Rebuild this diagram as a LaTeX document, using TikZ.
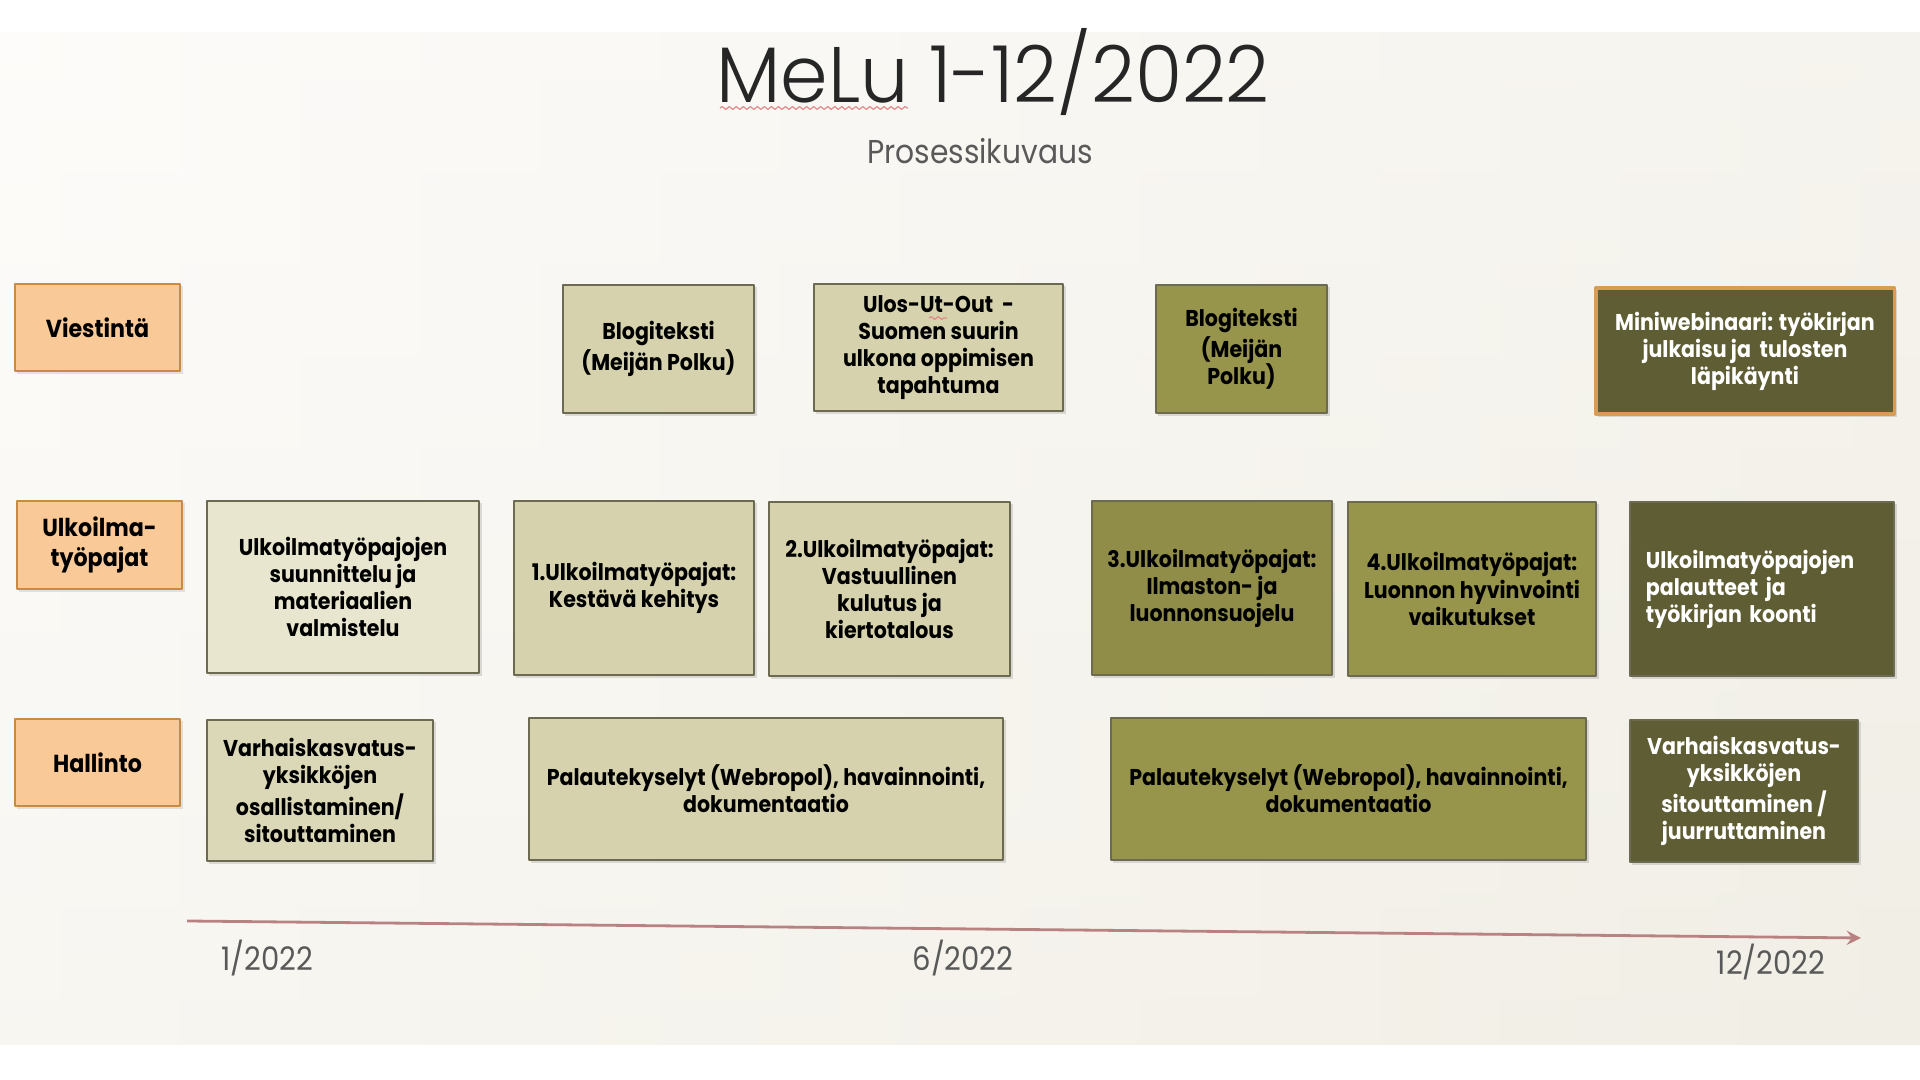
\documentclass[tikz,border=0pt]{standalone}
\usepackage{fontspec}
\setmainfont{Poppins}[FakeStretch=0.9]
\newfontfamily\titlefam{Poppins Light}[FakeStretch=0.97]
\usetikzlibrary{shadows,decorations.pathmorphing}

\definecolor{lanefill}{HTML}{F9CA98}
\definecolor{laneline}{HTML}{C98A45}
\definecolor{paleolive}{HTML}{E9E6CF}
\definecolor{lightolive}{HTML}{D5D2AD}
\definecolor{midolive}{HTML}{97944C}
\definecolor{darkolive}{HTML}{5E5D33}
\definecolor{boxline}{HTML}{6C6A50}
\definecolor{miniline}{HTML}{D89C55}
\definecolor{axisred}{HTML}{B98282}
\definecolor{spellred}{HTML}{E28C8C}
\definecolor{titlegray}{HTML}{262626}
\definecolor{subgray}{HTML}{595959}
\definecolor{slidetop}{HTML}{FDFCFA}
\definecolor{slidebottom}{HTML}{F3F1E9}
\definecolor{slideright}{HTML}{EFECE2}

\newcommand\titlefont{\titlefam\fontsize{22.4}{26}\selectfont}
\newcommand\subfont{\fontsize{9.4}{11}\selectfont}
\newcommand\datefont{\fontsize{9.2}{11}\selectfont}
\newcommand\lanefont{\fontsize{7}{8.3}\selectfont\bfseries}
\newcommand\taskfont{\fontsize{6.5}{7.7}\selectfont\bfseries}

\tikzset{
  lanebox/.style={draw=laneline,fill=lanefill,line width=0.7pt,align=center,
    font=\lanefont,text=black,inner sep=0pt,minimum width=1.65cm,minimum height=0.87cm,
    drop shadow={shadow xshift=0.025cm,shadow yshift=-0.025cm,opacity=0.2}},
  taskbox/.style={draw=boxline,line width=0.6pt,align=center,font=\taskfont,inner sep=0pt,
    drop shadow={shadow xshift=0.025cm,shadow yshift=-0.025cm,opacity=0.25}},
  taskpale/.style={taskbox,fill=paleolive},
  tasklight/.style={taskbox,fill=lightolive},
  taskmid/.style={taskbox,fill=midolive},
  taskdark/.style={taskbox,fill=darkolive,text=white},
  datelabel/.style={font=\datefont,text=subgray,anchor=base},
  spell/.style={spellred,line width=0.35pt,decorate,
    decoration={snake,amplitude=0.4pt,segment length=2pt}}
}

\begin{document}
\begin{tikzpicture}[>=stealth,line join=round,x=0.01cm,y=-0.01cm]
\useasboundingbox (0,0) rectangle (1920,1080);
\fill[white] (0,0) rectangle (1920,1080);
\shade[top color=slidetop,bottom color=slidebottom] (0,33) rectangle (1920,1045);
\shade[left color=slidetop,right color=slideright,opacity=0.5] (0,33) rectangle (1920,1045);

% title
\node[font=\titlefont,text=titlegray,anchor=base] (title) at (993,103) {MeLu 1-12/2022};
\node[font=\subfont,text=subgray,anchor=base] (subtitle) at (980,164) {Prosessikuvaus};
\draw[spell] (720,108) -- (908,108);

% lanes
\node[lanebox] (viestinta) at (97.5,327.5) {Viestintä};
\node[lanebox,minimum height=0.88cm] (ulkoilma) at (99.5,545) {Ulkoilma-\\työpajat};
\node[lanebox] (hallinto) at (97.5,762.5) {Hallinto};

% Viestintä
\node[tasklight,minimum width=1.91cm,minimum height=1.28cm] (blog1) at (658.5,349)
  {Blogiteksti\\(Meijän Polku)};
\node[tasklight,minimum width=2.49cm,minimum height=1.27cm] (ulos) at (938.5,347.5)
  {Ulos-Ut-Out~~-\\Suomen suurin\\ulkona oppimisen\\tapahtuma};
\draw[spell] (929,318) -- (947,318);
\node[taskmid,minimum width=1.71cm,minimum height=1.28cm] (blog2) at (1241.5,349)
  {Blogiteksti\\(Meijän\\Polku)};
\node[taskdark,draw=miniline,line width=0.9pt,minimum width=2.98cm,minimum height=1.26cm] (mini) at (1745,351)
  {Miniwebinaari: työkirjan\\julkaisu ja~~tulosten\\läpikäynti};

% Ulkoilmatyöpajat
\node[taskpale,minimum width=2.72cm,minimum height=1.72cm] (suunnittelu) at (343,587)
  {Ulkoilmatyöpajojen\\suunnittelu ja\\materiaalien\\valmistelu};
\node[tasklight,minimum width=2.40cm,minimum height=1.74cm] (paja1) at (634,588)
  {1.Ulkoilmatyöpajat:\\Kestävä kehitys};
\node[tasklight,minimum width=2.41cm,minimum height=1.74cm] (paja2) at (889.5,589)
  {2.Ulkoilmatyöpajat:\\Vastuullinen\\kulutus ja\\kiertotalous};
\node[taskmid,fill=midolive!95!black,minimum width=2.40cm,minimum height=1.74cm] (paja3) at (1212,588)
  {3.Ulkoilmatyöpajat:\\Ilmaston- ja\\luonnonsuojelu};
\node[taskmid,minimum width=2.48cm,minimum height=1.74cm] (paja4) at (1472,589)
  {4.Ulkoilmatyöpajat:\\Luonnon hyvinvointi\\vaikutukset};
\node[taskdark,align=left,text width=2.32cm,inner xsep=0.16cm,minimum width=2.64cm,minimum height=1.74cm] (palaute) at (1762,589)
  {Ulkoilmatyöpajojen\\palautteet ja\\työkirjan koonti};

% Hallinto
\node[tasklight,fill=lightolive!70!paleolive,minimum width=2.26cm,minimum height=1.41cm] (varhais1) at (320,790.5)
  {Varhaiskasvatus-\\yksikköjen\\osallistaminen/\\sitouttaminen};
\node[tasklight,minimum width=4.74cm,minimum height=1.42cm] (kysely1) at (766,789)
  {Palautekyselyt (Webropol), havainnointi,\\dokumentaatio};
\node[taskmid,minimum width=4.75cm,minimum height=1.42cm] (kysely2) at (1348.5,789)
  {Palautekyselyt (Webropol), havainnointi,\\dokumentaatio};
\node[taskdark,minimum width=2.28cm,minimum height=1.42cm] (varhais2) at (1744,791)
  {Varhaiskasvatus-\\yksikköjen\\sitouttaminen /\\juurruttaminen};

% timeline
\coordinate (tstart) at (187,921);
\coordinate (tend) at (1861,938);
\draw[->,axisred,line width=0.028cm] (tstart) -- (tend);
\node[datelabel] (jan) at (267,971) {1/2022};
\node[datelabel] (jun) at (963,971) {6/2022};
\node[datelabel] (dec) at (1771,975) {12/2022};
\end{tikzpicture}
\end{document}
